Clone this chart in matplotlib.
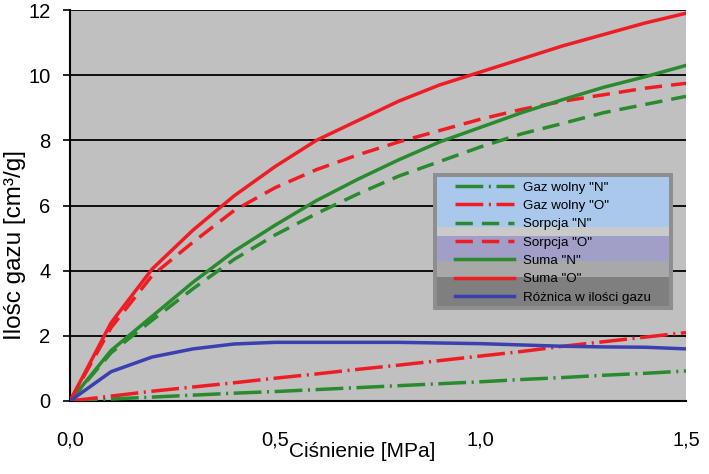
import matplotlib
matplotlib.use("Agg")
import matplotlib.pyplot as plt
from matplotlib.patches import Rectangle
from matplotlib.ticker import FuncFormatter

plt.rcParams['font.family'] = ['Liberation Sans', 'DejaVu Sans']

pressure = [0.0, 0.1, 0.2, 0.3, 0.4, 0.5, 0.6, 0.7, 0.8, 0.9, 1.0, 1.1, 1.2, 1.3, 1.4, 1.5]

gaz_wolny_N = [0.0, 0.06, 0.12, 0.18, 0.24, 0.29, 0.35, 0.41, 0.47, 0.53, 0.59, 0.66, 0.72, 0.79, 0.85, 0.92]
gaz_wolny_O = [0.0, 0.15, 0.30, 0.43, 0.56, 0.70, 0.83, 0.97, 1.10, 1.24, 1.38, 1.52, 1.68, 1.82, 1.96, 2.10]
sorpcja_N = [0.0, 1.48, 2.48, 3.45, 4.35, 5.1, 5.75, 6.35, 6.9, 7.35, 7.8, 8.2, 8.52, 8.85, 9.1, 9.35]
sorpcja_O = [0.0, 2.25, 3.85, 4.88, 5.85, 6.55, 7.1, 7.55, 7.95, 8.3, 8.65, 8.95, 9.2, 9.4, 9.6, 9.75]
suma_N = [0.0, 1.55, 2.6, 3.65, 4.6, 5.4, 6.15, 6.8, 7.4, 7.95, 8.4, 8.85, 9.25, 9.63, 9.95, 10.3]
suma_O = [0.0, 2.4, 4.05, 5.25, 6.3, 7.2, 8.0, 8.6, 9.2, 9.7, 10.1, 10.5, 10.9, 11.25, 11.6, 11.9]
roznica = [0.0, 0.9, 1.35, 1.6, 1.75, 1.8, 1.8, 1.8, 1.8, 1.78, 1.76, 1.72, 1.68, 1.66, 1.65, 1.6]

labels = ['Gaz wolny "N"', 'Gaz wolny "O"', 'Sorpcja "N"', 'Sorpcja "O"',
          'Suma "N"', 'Suma "O"', 'Różnica w ilości gazu']

x_ticks = [0.0, 0.5, 1.0, 1.5]
y_ticks = [0, 2, 4, 6, 8, 10, 12]

RED = '#EE1D24'
GREEN = '#2A8A2E'
BLUE = '#3A40B0'

W, H = 709, 474
fig = plt.figure(figsize=(W / 100, H / 100), dpi=100)
AX_L, AX_R, AX_T, AX_B = 70, 686, 10, 401
ax = fig.add_axes([AX_L / W, 1 - AX_B / H, (AX_R - AX_L) / W, (AX_B - AX_T) / H])
ax.set_facecolor('#C0C0C0')

dashdot = (0, (8, 1.6, 0.6, 1.6))
dashed = (0, (5, 2.6))
lw = 2.5

ax.plot(pressure, gaz_wolny_N, color=GREEN, lw=lw, linestyle=dashdot, label=labels[0], zorder=3)
ax.plot(pressure, gaz_wolny_O, color=RED, lw=lw, linestyle=dashdot, label=labels[1], zorder=3)
ax.plot(pressure, sorpcja_N, color=GREEN, lw=lw, linestyle=dashed, label=labels[2], zorder=3)
ax.plot(pressure, sorpcja_O, color=RED, lw=lw, linestyle=dashed, label=labels[3], zorder=3)
ax.plot(pressure, suma_N, color=GREEN, lw=lw, label=labels[4], zorder=3)
ax.plot(pressure, suma_O, color=RED, lw=lw, label=labels[5], zorder=3)
ax.plot(pressure, roznica, color=BLUE, lw=lw, label=labels[6], zorder=3)

ax.set_xlim(0, 1.5)
ax.set_ylim(0, 12)
ax.set_xticks(x_ticks)
ax.set_yticks(y_ticks)
ax.xaxis.set_major_formatter(FuncFormatter(lambda v, p: f'{v:.1f}'.replace('.', ',')))
ax.yaxis.set_major_formatter(FuncFormatter(lambda v, p: f'{v:.0f}'))
ax.tick_params(axis='x', length=0, pad=21, labelsize=14.5)
ax.tick_params(axis='y', length=5, width=1.2, direction='out', pad=9, labelsize=14.5)

ax.grid(axis='y', color='black', lw=1.3, zorder=1)
ax.set_axisbelow(True)
ax.spines['right'].set_visible(False)
ax.spines['top'].set_visible(False)
ax.spines['left'].set_linewidth(1.5)
ax.spines['bottom'].set_linewidth(1.5)

ax.set_xlabel('Ciśnienie [MPa]', fontsize=15)
ax.xaxis.set_label_coords(0.474, -0.105)
ax.set_ylabel('Ilośc gazu [cm³/g]', fontsize=17.5)
ax.yaxis.set_label_coords(-0.071, 0.40)

# legend background (Excel-like banded fill)
def rect_px(x0, y0, x1, y1, color, z):
    xa = (x0 - AX_L) / (AX_R - AX_L)
    xb = (x1 - AX_L) / (AX_R - AX_L)
    ya = (AX_B - y1) / (AX_B - AX_T)
    yb = (AX_B - y0) / (AX_B - AX_T)
    ax.add_patch(Rectangle((xa, ya), xb - xa, yb - ya, transform=ax.transAxes,
                           facecolor=color, edgecolor='none', zorder=z, clip_on=False))

rect_px(433, 173, 673, 310, '#8E8E8E', 4)
rect_px(437, 177, 669, 227, '#A9C8EC', 4.1)
rect_px(437, 227, 669, 236, '#CACACA', 4.1)
rect_px(437, 236, 669, 261, '#A19EC8', 4.1)
rect_px(437, 261, 669, 277, '#A8A8A8', 4.1)
rect_px(437, 277, 669, 306, '#7F7F7F', 4.1)

leg = ax.legend(loc='center', bbox_to_anchor=((553 - AX_L) / (AX_R - AX_L), (AX_B - 242.5) / (AX_B - AX_T)),
                frameon=False, fontsize=9.6, handlelength=4.4, handletextpad=0.65,
                labelspacing=0.45, borderpad=0, borderaxespad=0)
leg.set_zorder(5)

fig.savefig('out.png', dpi=100, facecolor='white')
